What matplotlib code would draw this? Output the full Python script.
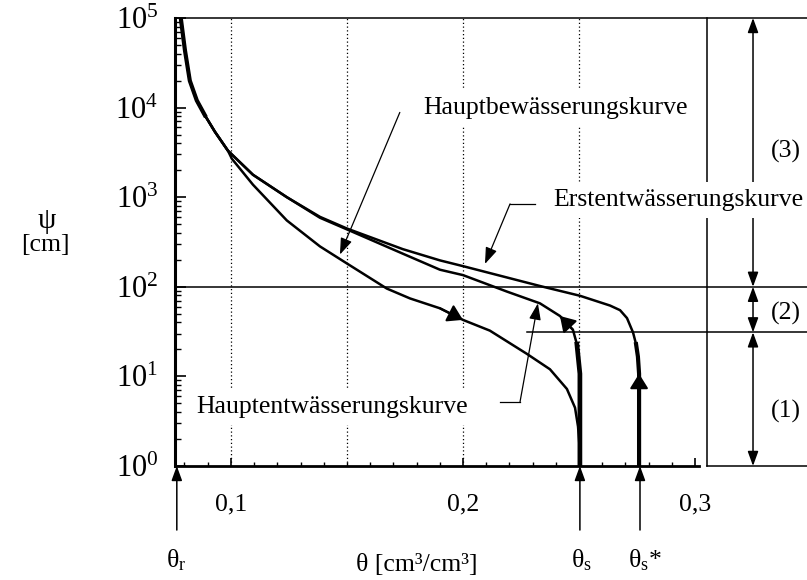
import numpy as np
import matplotlib
matplotlib.use('Agg')
import matplotlib.pyplot as plt
from matplotlib.ticker import LogLocator, MultipleLocator, NullFormatter

plt.rcParams['font.family'] = ['Liberation Serif', 'DejaVu Serif']
plt.rcParams['mathtext.fontset'] = 'custom'
plt.rcParams['mathtext.rm'] = 'Liberation Serif'
plt.rcParams['mathtext.it'] = 'Liberation Serif:italic'

#%% Daten
# Erstentwaesserungskurve
theta_erst = [0.0784, 0.0802, 0.0823, 0.0853, 0.0888, 0.0931, 0.0987, 0.1095, 0.1241, 0.1384,
              0.1500, 0.1741, 0.1901, 0.2000, 0.2332, 0.2504, 0.2634, 0.2677, 0.2707, 0.2733,
              0.2746, 0.2754, 0.2759, 0.2759]
psi_erst = [100000, 43650, 19950, 12020, 8200, 5380, 3310, 1780, 1000, 603,
            447, 263, 197, 170, 102, 79.4, 61.7, 54.8, 44.7, 30.9,
            22.9, 16.6, 10.7, 1.0]

# Hauptentwaesserungskurve
theta_hent = [0.0784, 0.0802, 0.0823, 0.0853, 0.0888, 0.0931, 0.0987, 0.1095, 0.1241, 0.1384,
              0.1500, 0.1741, 0.1901, 0.2000, 0.2190, 0.2332, 0.2418, 0.2474, 0.2491, 0.2504,
              0.2504]
psi_hent = [100000, 43650, 19950, 12020, 8200, 5380, 3310, 1780, 1000, 589,
            437, 234, 155, 135, 88.3, 65.3, 47.2, 33.1, 22.9, 10.7,
            1.0]

# Hauptbewaesserungskurve
theta_hbew = [0.0784, 0.0802, 0.0823, 0.0853, 0.0888, 0.0931, 0.0987, 0.1004, 0.1095, 0.1241,
              0.1384, 0.1500, 0.1672, 0.1772, 0.1901, 0.2000, 0.2116, 0.2276, 0.2375, 0.2448,
              0.2483, 0.2496, 0.2504, 0.2504]
psi_hbew = [100000, 43650, 19950, 12020, 8200, 5380, 3310, 2690, 1380, 550,
            282, 182, 95.5, 74.1, 57.5, 42.7, 32.4, 17.8, 12.0, 7.24,
            4.47, 2.75, 1.45, 1.0]

theta_r = 0.0767
theta_s = 0.2504
theta_s_stern = 0.2763
psi_grenzen = [100000, 100, 31, 1]      # Bereiche (3), (2), (1)
bereich_namen = ['(3)', '(2)', '(1)']
gitter_theta = [0.1, 0.15, 0.2, 0.25]
xticks = [0.1, 0.2, 0.3]
xtick_labels = ['0,1', '0,2', '0,3']
yexp = [0, 1, 2, 3, 4, 5]

#%% Grafik
fig = plt.figure(figsize=(8.07, 5.80), dpi=100)
ax = fig.add_axes([0.2168, 0.1966, 0.6493, 0.7724])
ax.set_yscale('log')
x0, x1 = 0.0759, 0.3017
ax.set_xlim(x0, x1)
ax.set_ylim(1, 1e5)

for g in gitter_theta:
    ax.axvline(g, color='black', lw=0.9, ls=(0, (1, 2)), zorder=1)

# Kurven
lw_k = 1.8
ax.plot(theta_erst, psi_erst, color='black', lw=lw_k, zorder=3, solid_joinstyle='round')
ax.plot(theta_hent, psi_hent, color='black', lw=lw_k, zorder=3, solid_joinstyle='round')
ax.plot(theta_hbew, psi_hbew, color='black', lw=lw_k, zorder=3, solid_joinstyle='round')
ax.plot(theta_erst[-4:], psi_erst[-4:], color='black', lw=3.0, zorder=3)
ax.plot(theta_hent[-3:], psi_hent[-3:], color='black', lw=3.4, zorder=3)
ax.plot(theta_erst[:5], psi_erst[:5], color='black', lw=3.0, zorder=3)

def pfeil(th, ps, i, j):
    ax.annotate('', xy=(th[j], ps[j]), xytext=(th[i], ps[i]),
                arrowprops=dict(arrowstyle='-|>,head_length=0.45,head_width=0.28',
                                color='black', lw=1.5, shrinkA=0, shrinkB=0,
                                mutation_scale=20), zorder=4)

pfeil(theta_hbew, psi_hbew, 14, 15)
pfeil(theta_hent, psi_hent, 17, 16)
pfeil(theta_erst, psi_erst, 23, 22)

# Beschriftungen mit Hinweispfeilen
fs = 18.5
box = dict(facecolor='white', edgecolor='none', pad=5)
kopf = dict(arrowstyle='-|>,head_length=0.5,head_width=0.18', color='black',
            lw=0.9, shrinkA=0, shrinkB=0, mutation_scale=20)

ax.text(0.1828, 1.0e4, 'Hauptbewässerungskurve', fontsize=fs, ha='left', va='center',
        bbox=box, zorder=5)
ax.annotate('', xy=(0.1470, 229), xytext=(0.1728, 8830), arrowprops=kopf, zorder=4)

ax.text(0.2388, 933, 'Erstentwässerungskurve', fontsize=fs, ha='left', va='center',
        bbox=box, zorder=6, clip_on=False)
ax.plot([0.2310, 0.2203], [841, 841], color='black', lw=0.9, zorder=4)
ax.annotate('', xy=(0.2095, 180), xytext=(0.2203, 841), arrowprops=kopf, zorder=4)

ax.text(0.0853, 4.6, 'Hauptentwässerungskurve', fontsize=fs, ha='left', va='center',
        bbox=box, zorder=5)
ax.plot([0.2159, 0.2246], [5.2, 5.2], color='black', lw=0.9, zorder=4)
ax.annotate('', xy=(0.2323, 65.3), xytext=(0.2246, 5.2), arrowprops=kopf, zorder=4)

# Rahmen und Bereiche rechts
x_rahmen, x_mass, x_ende = 0.3052, 0.325, 0.36
lk = dict(color='black', lw=1.1, clip_on=False, zorder=2)
ax.plot([x0, x_ende], [psi_grenzen[0]] * 2, **lk)
ax.plot([x0, x_ende], [psi_grenzen[1]] * 2, **lk)
ax.plot([0.2276, x_ende], [psi_grenzen[2]] * 2, **lk)
ax.plot([x_rahmen, x_ende], [psi_grenzen[3]] * 2, **lk)
ax.plot([x_rahmen, x_rahmen], [1, 1e5], **lk)

dk = dict(arrowstyle='<|-|>,head_length=0.55,head_width=0.2', color='black', lw=1.1,
          shrinkA=0, shrinkB=0, mutation_scale=16)
for k in range(3):
    ax.annotate('', xy=(x_mass, psi_grenzen[k]), xytext=(x_mass, psi_grenzen[k + 1]),
                arrowprops=dk, annotation_clip=False, zorder=2)
for name, yy in zip(bereich_namen, [3280, 50, 4.1]):
    ax.text(0.3392, yy, name, fontsize=fs, ha='center', va='center', clip_on=False)

# Pfeile unter der Achse
bk = dict(arrowstyle='-|>,head_length=0.55,head_width=0.2', color='black', lw=1.1,
          shrinkA=0, shrinkB=0, mutation_scale=16)
for th in [theta_r, theta_s, theta_s_stern]:
    ax.annotate('', xy=(th, 0), xycoords=('data', 'axes fraction'),
                xytext=(th, -0.143), textcoords=('data', 'axes fraction'),
                arrowprops=bk, annotation_clip=False)
tr = ax.get_xaxis_transform()
ax.text(0.0763, -0.21, 'θ$_\\mathrm{r}$', transform=tr, fontsize=fs, ha='center', va='center')
ax.text(0.1802, -0.222, 'θ [cm³/cm³]', transform=tr, fontsize=fs, ha='center', va='center')
ax.text(0.2509, -0.21, 'θ$_\\mathrm{s}$', transform=tr, fontsize=fs, ha='center', va='center')
ax.text(0.2784, -0.21, 'θ$_\\mathrm{s}$*', transform=tr, fontsize=fs, ha='center', va='center')

fig.text(47 / 807, 1 - 221 / 580, 'ψ', fontsize=21, ha='center', va='center')
fig.text(45 / 807, 1 - 245 / 580, '[cm]', fontsize=fs, ha='center', va='center')

# Achsen
ax.set_xticks(xticks)
ax.set_xticklabels(xtick_labels, fontsize=fs)
ax.xaxis.set_minor_locator(MultipleLocator(0.01))
ax.set_yticks([10.0 ** e for e in yexp])
ax.set_yticklabels(['$10^{%d}$' % e for e in yexp], fontsize=22)
ax.yaxis.set_minor_locator(LogLocator(base=10, subs=np.arange(2, 10)))
ax.yaxis.set_minor_formatter(NullFormatter())
ax.tick_params(axis='x', which='both', direction='in', top=False, pad=20)
ax.tick_params(axis='x', which='major', length=6, width=1.2)
ax.tick_params(axis='x', which='minor', length=3, width=1.0)
ax.tick_params(axis='y', which='both', direction='in', right=False, pad=12)
ax.tick_params(axis='y', which='major', length=8, width=1.2)
ax.tick_params(axis='y', which='minor', length=4, width=1.0)
ax.spines['left'].set_linewidth(2.2)
ax.spines['bottom'].set_linewidth(2.0)
ax.spines['top'].set_visible(False)
ax.spines['right'].set_visible(False)

fig.savefig('out.png', dpi=100, facecolor='white')
